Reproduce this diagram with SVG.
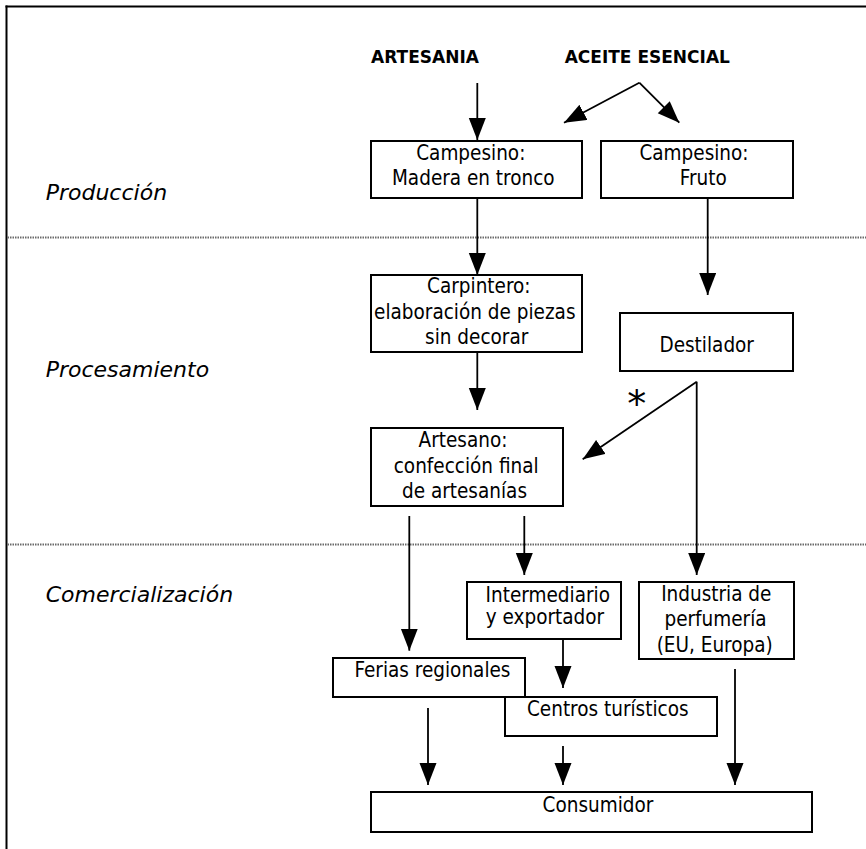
<svg xmlns="http://www.w3.org/2000/svg" width="866" height="849" viewBox="0 0 866 849">
<style>
.bx{fill:#fff;stroke:#000;stroke-width:2}
.t{font-family:"DejaVu Sans Condensed","Noto Sans",sans-serif;font-size:20.5px;fill:#000;text-anchor:middle}
.h{font-family:"DejaVu Sans",sans-serif;font-size:17px;font-weight:bold;fill:#000;text-anchor:middle}
.lab{font-family:"DejaVu Sans",sans-serif;font-size:22px;font-style:italic;fill:#000}
.c line{stroke:#000;stroke-width:1.8;marker-end:url(#ah)}
.sep{stroke:#6a6a6a;stroke-width:2;stroke-dasharray:1.5 1}
</style>
<defs>
<marker id="ah" markerUnits="userSpaceOnUse" markerWidth="23" markerHeight="18" refX="22" refY="8.5" orient="auto">
<path d="M0,0 L22,8.5 L0,17 z" fill="#000"/>
</marker>
</defs>
<rect width="866" height="849" fill="#fff"/>
<g id="frame">
<line x1="5.5" y1="6.5" x2="866" y2="6.5" stroke="#000" stroke-width="2"/>
<line x1="6.5" y1="5.5" x2="6.5" y2="849" stroke="#000" stroke-width="2"/>
<line class="sep" x1="7.5" y1="237.5" x2="866" y2="237.5"/>
<line class="sep" x1="7.5" y1="544.5" x2="866" y2="544.5"/>
</g>
<g id="labels">
<text class="lab" x="45.7" y="200">Producción</text>
<text class="lab" x="45.7" y="377">Procesamiento</text>
<text class="lab" x="45.7" y="601.7">Comercialización</text>
<text class="h" x="425" y="63.3">ARTESANIA</text>
<text class="h" x="647.3" y="63.3">ACEITE ESENCIAL</text>
</g>
<g class="c" id="connectors">
<line x1="477.3" y1="83" x2="477.3" y2="140"/>
<line x1="639.3" y1="82.7" x2="564" y2="122.7"/>
<line x1="639.3" y1="82.7" x2="679.3" y2="122.7"/>
<line x1="477.3" y1="198" x2="477.3" y2="275"/>
<line x1="707.7" y1="198" x2="707.7" y2="295"/>
<line x1="477.3" y1="352" x2="477.3" y2="410"/>
<line x1="696.7" y1="381.7" x2="582.7" y2="459.3"/>
<line x1="696.7" y1="381.7" x2="696.7" y2="575"/>
<line x1="409.3" y1="516" x2="409.3" y2="650.7"/>
<line x1="524.3" y1="516" x2="524.3" y2="575"/>
<line x1="563" y1="631" x2="563" y2="688"/>
<line x1="428" y1="708" x2="428" y2="785"/>
<line x1="563" y1="746" x2="563" y2="785"/>
<line x1="735" y1="669" x2="735" y2="785"/>
<text x="636.7" y="417" style="font-family:'DejaVu Sans',sans-serif;font-size:38px;text-anchor:middle;fill:#000">*</text>
</g>
<g id="campesino-madera">
<rect class="bx" x="371" y="141" width="211" height="57"/>
<text class="t" x="470.8" y="160">Campesino:</text>
<text class="t" x="473.3" y="185">Madera en tronco</text>
</g>
<g id="campesino-fruto">
<rect class="bx" x="601" y="141" width="192" height="57"/>
<text class="t" x="694" y="160">Campesino:</text>
<text class="t" x="703.3" y="185">Fruto</text>
</g>
<g id="carpintero">
<rect class="bx" x="371" y="275" width="211" height="77"/>
<text class="t" x="478.8" y="293">Carpintero:</text>
<text class="t" x="474.8" y="319.3">elaboración de piezas</text>
<text class="t" x="476.7" y="344.3">sin decorar</text>
</g>
<g id="destilador">
<rect class="bx" x="620" y="313" width="173" height="58"/>
<text class="t" x="706.7" y="351.7">Destilador</text>
</g>
<g id="artesano">
<rect class="bx" x="371" y="428" width="192" height="78"/>
<text class="t" x="463" y="446.7">Artesano:</text>
<text class="t" x="466.2" y="472.7">confección final</text>
<text class="t" x="464.5" y="498.3">de artesanías</text>
</g>
<g id="intermediario">
<rect class="bx" x="467" y="582" width="154" height="57"/>
<text class="t" x="547.8" y="601.7">Intermediario</text>
<text class="t" x="545" y="624">y exportador</text>
</g>
<g id="industria">
<rect class="bx" x="639" y="582" width="155" height="77"/>
<text class="t" x="716.3" y="600.7">Industria de</text>
<text class="t" x="715.5" y="626">perfumería</text>
<text class="t" x="714.7" y="651.7">(EU, Europa)</text>
</g>
<g id="ferias">
<rect class="bx" x="333" y="658" width="192" height="39"/>
<text class="t" x="432.5" y="677.3">Ferias regionales</text>
</g>
<g id="centros">
<rect class="bx" x="505" y="697" width="212" height="39"/>
<text class="t" x="607.8" y="715.7">Centros turísticos</text>
</g>
<g id="consumidor">
<rect class="bx" x="371" y="792" width="441" height="40"/>
<text class="t" x="598" y="812">Consumidor</text>
</g>
</svg>
